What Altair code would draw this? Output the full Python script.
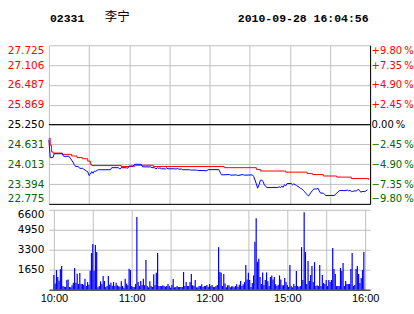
import altair as alt
import pandas as pd

# ---------------- data ----------------
code = "02331"
name = "李宁"
stamp = "2010-09-28 16:04:56"
prev_close = 25.25

price_ticks = [22.775, 23.394, 24.013, 24.631, 25.25, 25.869, 26.487, 27.106, 27.725]
pct_ticks = [-9.80, -7.35, -4.90, -2.45, 0.0, 2.45, 4.90, 7.35, 9.80]
vol_ticks = [1650, 3300, 4950, 6600]
grid_minutes = [0, 30, 60, 90, 120, 150, 180, 210, 240]
time_labels = ["10:00", "", "11:00", "", "12:00", "", "15:00", "", "16:00"]

# last price (blue): minute index since 10:00 (lunch break removed) and price
price_t = [0, 1, 3, 4, 10, 11, 15, 16, 17, 18, 19, 20, 22, 23, 25, 26, 27, 28, 29, 30,
           31, 32, 33, 34, 35, 36, 37, 46, 47, 52, 53, 54, 58, 59, 60, 63, 64, 69, 70, 76,
           77, 79, 80, 81, 82, 83, 84, 86, 87, 88, 89, 94, 95, 96, 97, 99, 100, 105, 106, 110,
           111, 118, 119, 127, 128, 129, 135, 136, 140, 141, 145, 146, 152, 153, 154, 155, 156, 157, 158, 159,
           160, 161, 162, 163, 171, 172, 173, 174, 175, 176, 177, 178, 181, 182, 183, 185, 186, 187, 188, 189,
           190, 191, 192, 193, 194, 195, 196, 197, 198, 200, 201, 202, 203, 205, 206, 207, 213, 214, 215, 216,
           217, 222, 223, 224, 225, 226, 227, 228, 230, 231, 232, 233, 234, 236, 237, 238]
price_v = [24.78, 24.22, 24.22, 24.34, 24.34, 24.26, 24.26, 24.20, 24.14, 24.08, 24.00, 23.94, 23.94, 23.885, 23.885, 23.86, 23.83, 23.80, 23.78, 23.66,
           23.70, 23.78, 23.73, 23.80, 23.79, 23.82, 23.84, 23.84, 23.905, 23.905, 23.86, 23.905, 23.90, 23.89, 23.957, 23.957, 24.01, 24.01, 23.93, 23.93,
           23.905, 23.905, 23.86, 23.905, 23.88, 23.90, 23.87, 23.87, 23.86, 23.90, 23.87, 23.87, 23.86, 23.88, 23.86, 23.86, 23.84, 23.84, 23.83, 23.83,
           23.82, 23.81, 23.843, 23.843, 23.76, 23.68, 23.69, 23.67, 23.68, 23.66, 23.69, 23.67, 23.68, 23.63, 23.52, 23.40, 23.264, 23.37, 23.51, 23.52,
           23.47, 23.37, 23.32, 23.285, 23.285, 23.31, 23.285, 23.33, 23.29, 23.37, 23.34, 23.41, 23.41, 23.37, 23.40, 23.35, 23.32, 23.30, 23.26, 23.24,
           23.20, 23.16, 23.10, 23.06, 23.02, 23.08, 23.14, 23.20, 23.24, 23.24, 23.264, 23.18, 23.11, 23.11, 23.07, 23.036, 23.036, 23.06, 23.11, 23.14,
           23.19, 23.19, 23.21, 23.18, 23.20, 23.16, 23.16, 23.18, 23.18, 23.23, 23.20, 23.14, 23.16, 23.16, 23.18, 23.22]

# average price (red)
avg_t = [0, 1, 2, 3, 9, 10, 16, 17, 20, 21, 24, 25, 28, 29, 30, 31, 32, 53, 54, 63,
         64, 77, 78, 130, 131, 154, 155, 157, 158, 176, 177, 192, 193, 196, 197, 204, 205, 214, 215, 225,
         226, 238, 239]
avg_v = [24.82, 24.60, 24.40, 24.36, 24.36, 24.32, 24.32, 24.27, 24.27, 24.22, 24.22, 24.185, 24.185, 24.11, 24.11, 24.01, 23.97, 23.97, 23.94, 23.94,
         23.98, 23.98, 23.94, 23.94, 23.905, 23.905, 23.85, 23.85, 23.80, 23.80, 23.765, 23.765, 23.72, 23.72, 23.69, 23.69, 23.645, 23.645, 23.61, 23.61,
         23.565, 23.565, 23.525]

# volume per minute (minutes 0..239)
volume = [
    1210, 520, 1620, 1045, 740, 1680, 1950, 300, 250, 220,
    800, 850, 220, 190, 360, 580, 1790, 580, 1320, 470,
    1375, 470, 470, 410, 910, 300, 630, 410, 1570, 3025,
    3770, 1570, 3685, 3110, 190, 300, 690, 470, 1130, 715,
    220, 300, 1130, 410, 580, 330, 630, 300, 580, 360,
    275, 250, 690, 300, 160, 910, 500, 360, 1730, 1620,
    300, 220, 220, 470, 6000, 630, 300, 715, 390, 910,
    360, 2450, 300, 190, 690, 300, 220, 1265, 390, 1400,
    3025, 300, 300, 300, 360, 300, 250, 300, 470, 300,
    160, 390, 880, 190, 220, 300, 220, 220, 220, 220,
    1460, 300, 630, 300, 300, 630, 1290, 360, 300, 800,
    190, 190, 300, 300, 440, 220, 300, 300, 390, 220,
    470, 300, 390, 220, 220, 300, 390, 3520, 1460, 1400,
    300, 1290, 520, 190, 360, 360, 190, 275, 275, 190,
    300, 440, 220, 410, 715, 300, 440, 630, 2035, 850,
    1400, 800, 220, 550, 1180, 3960, 5910, 2310, 2560, 1045,
    470, 1430, 390, 800, 1430, 690, 300, 1045, 1180, 850,
    1045, 440, 300, 410, 1180, 850, 360, 360, 960, 630,
    390, 220, 2035, 300, 190, 470, 300, 1540, 300, 220,
    300, 3520, 800, 6410, 3110, 470, 2365, 715, 1210, 1950,
    630, 2280, 300, 360, 300, 2035, 300, 1210, 550, 470,
    800, 300, 800, 630, 800, 3440, 1700, 1290, 300, 300,
    300, 1790, 1540, 2200, 300, 715, 470, 470, 470, 1700,
    3025, 300, 390, 1700, 1950, 1290, 550, 960, 1620, 3110,
]

# ---------------- tables ----------------
price_df = pd.DataFrame({"t": price_t, "p": price_v})
avg_df = pd.DataFrame({"t": avg_t, "p": avg_v})
vol_df = pd.DataFrame({"t": list(range(len(volume))), "v": volume})
pct_df = pd.DataFrame({"pct": [0.0]})
head_df = pd.DataFrame({"code": [code], "name": [name], "stamp": [stamp]})

GRID = "#c0c0c0"
RED = "#ff0000"
GREEN = "#006400"
LABEL_FONT = "DejaVu Sans"
W, H_PRICE, H_VOL = 322, 159, 80

x_scale = alt.Scale(domain=[0, 240], nice=False, zero=False)

x_price = alt.X(
    "t:Q", scale=x_scale,
    axis=alt.Axis(values=grid_minutes, grid=True, gridColor=GRID, labels=False,
                  ticks=False, domain=True, domainColor="#000000", title=None),
)
y_price = alt.Y(
    "p:Q", scale=alt.Scale(domain=[price_ticks[0], price_ticks[-1]], nice=False, zero=False),
    axis=alt.Axis(values=price_ticks, format=".3f", grid=True, gridColor=GRID, ticks=False,
                  domain=False, labelPadding=5, labelFlush=True, labelFont=LABEL_FONT,
                  labelFontSize=10.5, title=None,
                  labelColor={"expr": "datum.value > 25.26 ? '%s' : (datum.value < 25.24 ? '%s' : '#000000')" % (RED, GREEN)}),
)

avg_line = alt.Chart(avg_df).mark_line(color=RED, strokeWidth=1, interpolate="step-after").encode(x=x_price, y=y_price)
price_line = alt.Chart(price_df).mark_line(color="#0000ff", strokeWidth=1).encode(x=x_price, y=y_price)

pct_label = ("(datum.value > 0 ? '+' : (datum.value == 0 ? '\u00a0\u00a0' : '')) + "
             "format(datum.value, '.2f') + '\u2009%'")
pct_rule = alt.Chart(pct_df).mark_rule(color="#000000", strokeWidth=1).encode(
    y=alt.Y("pct:Q", scale=alt.Scale(domain=[pct_ticks[0], pct_ticks[-1]], nice=False, zero=False),
            axis=alt.Axis(orient="right", values=pct_ticks, labelExpr=pct_label, grid=False,
                          ticks=False, domain=True, domainColor="#000000", labelPadding=1,
                          labelFlush=True, labelFont=LABEL_FONT, labelFontSize=10, title=None,
                          labelColor={"expr": "datum.value > 0.01 ? '%s' : (datum.value < -0.01 ? '%s' : '#000000')" % (RED, GREEN)}))
)

head_code = alt.Chart(head_df).mark_text(
    align="left", baseline="alphabetic", font="Liberation Mono", fontWeight="bold", fontSize=11.5, color="#000000"
).encode(x=alt.value(1), y=alt.value(-23.5), text="code:N")
head_name = alt.Chart(head_df).mark_text(
    align="left", baseline="alphabetic", font="Noto Sans CJK SC", fontSize=12.5, color="#000000"
).encode(x=alt.value(56), y=alt.value(-24.5), text="name:N")
head_stamp = alt.Chart(head_df).mark_text(
    align="right", baseline="alphabetic", font="Liberation Mono", fontWeight="bold", fontSize=11.5, color="#000000"
).encode(x=alt.value(320.5), y=alt.value(-23.5), text="stamp:N")

price_panel = alt.layer(
    alt.layer(avg_line, price_line),
    pct_rule,
    head_code, head_name, head_stamp,
).resolve_scale(y="independent").properties(width=W, height=H_PRICE)

time_expr = "[" + ",".join("'%s'" % s for s in time_labels) + "][round(datum.value / 30)]"
vol_panel = alt.Chart(vol_df).mark_bar(size=1.2, color="#0000ff").encode(
    x=alt.X("t:Q", scale=x_scale,
            axis=alt.Axis(values=grid_minutes, labelExpr=time_expr, grid=True, gridColor=GRID,
                          ticks=False, domain=True, domainColor="#000000", labelPadding=3,
                          labelFlush=False, labelFont="Liberation Sans", labelFontSize=11,
                          labelColor="#000000", title=None)),
    y=alt.Y("v:Q", scale=alt.Scale(domain=[0, 6600], nice=False),
            axis=alt.Axis(values=vol_ticks, format="d", grid=True, gridColor=GRID, ticks=False, domain=False,
                          labelPadding=5, labelFlush=True, labelFont=LABEL_FONT, labelFontSize=10.5,
                          labelColor="#000000", title=None)),
).properties(width=W, height=H_VOL)

chart = alt.vconcat(price_panel, vol_panel, spacing=5).properties(
    padding={"left": 7, "top": 10, "right": 0, "bottom": 0},
    background="#ffffff",
).configure_view(stroke=None)

chart.save("out.html", embed_options={"renderer": "svg", "actions": False})
